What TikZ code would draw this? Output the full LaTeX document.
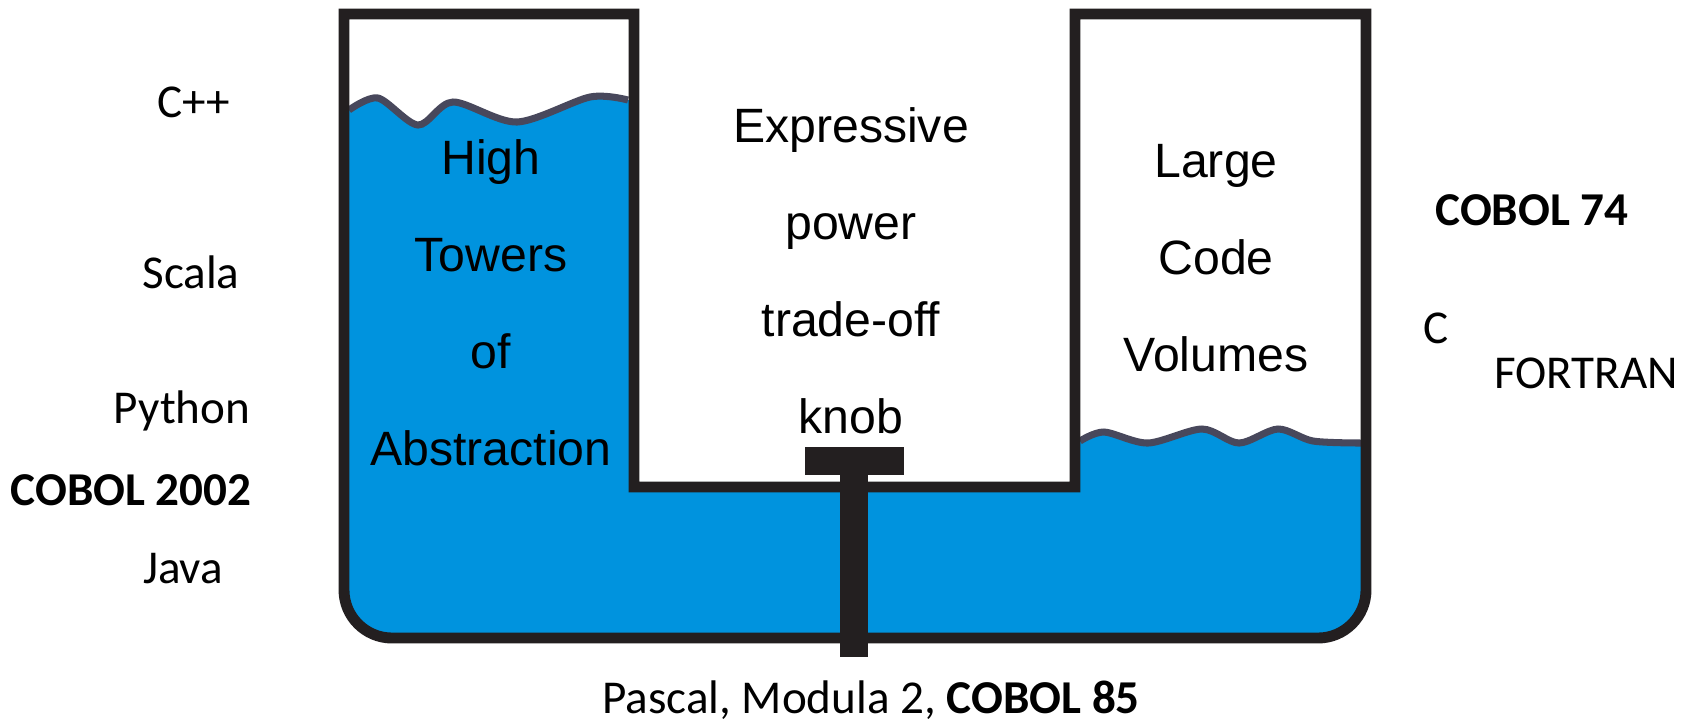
\documentclass[tikz,border=0pt]{standalone}
\usepackage{fontspec}
\setmainfont{Carlito}
\newfontfamily\arialfont{Liberation Sans}
\usepackage{xcolor}
\definecolor{waterblue}{RGB}{0,147,222}
\definecolor{surface}{RGB}{72,72,92}
\definecolor{ink}{RGB}{35,31,32}

\begin{document}
\begin{tikzpicture}[x=0.01cm,y=-0.01cm,
  vessel/.style={line width=3.1pt, draw=ink},
  wave/.style={line width=2pt, draw=surface},
  tank/.style={font=\arialfont\fontsize{13.7}{16}\selectfont, anchor=base, inner sep=0pt},
  lang/.style={font=\fontsize{13.4}{16}\selectfont, anchor=base, inner sep=0pt}]
\useasboundingbox (0,0) rectangle (1682,720);

% water
\fill[waterblue] (344,110) -- plot[smooth] coordinates {(349,110) (378,98) (418,125) (453,102) (517,122) (590,97) (628,100)}
  -- (634,100) -- (634,487) -- (1075,487) -- (1075,441)
  -- plot[smooth] coordinates {(1080,441) (1104,432) (1148,443) (1202,429) (1239,443) (1278,429) (1313,441) (1361,443)}
  -- (1366,443) -- (1366,590) arc[start angle=0, end angle=90, radius=48]
  -- (392,638) arc[start angle=90, end angle=180, radius=48] -- cycle;
\draw[wave] plot[smooth] coordinates {(349,110) (378,98) (418,125) (453,102) (517,122) (590,97) (628,100)};
\draw[wave] plot[smooth] coordinates {(1080,441) (1104,432) (1148,443) (1202,429) (1239,443) (1278,429) (1313,441) (1361,443)};

% vessel
\draw[vessel] (1075,487) -- (1075,14) -- (1366,14) -- (1366,590)
  arc[start angle=0, end angle=90, radius=48] -- (392,638)
  arc[start angle=90, end angle=180, radius=48] -- (344,14) -- (634,14) -- (634,487) -- cycle;

% knob
\fill[ink] (805,447) rectangle (904,475);
\fill[ink] (840,475) rectangle (868,657);

\foreach \w [count=\i from 0] in {High,Towers,of,Abstraction}
  \node[tank] (high\i) at (491,{174+97*\i}) {\w};
\foreach \w [count=\i from 0] in {Expressive,power,trade-off,knob}
  \node[tank] (knob\i) at (851,{142+97*\i}) {\w};
\foreach \w [count=\i from 0] in {Large,Code,Volumes}
  \node[tank] (large\i) at (1216,{177+97*\i}) {\w};

\node[lang] (cpp) at (194,117) {C++};
\node[lang] (scala) at (191,288) {Scala};
\node[lang] (python) at (182,423) {Python};
\node[lang] (cobolA) at (131,505) {\textbf{COBOL 2002}};
\node[lang] (java) at (183,583) {Java};
\node[lang] (cobolB) at (1532,225) {\textbf{COBOL 74}};
\node[lang] (clang) at (1436,343) {C};
\node[lang] (fortran) at (1586,388) {FORTRAN};
\node[lang] (pascal) at (871,713) {Pascal, Modula 2, \textbf{COBOL 85}};
\end{tikzpicture}
\end{document}
